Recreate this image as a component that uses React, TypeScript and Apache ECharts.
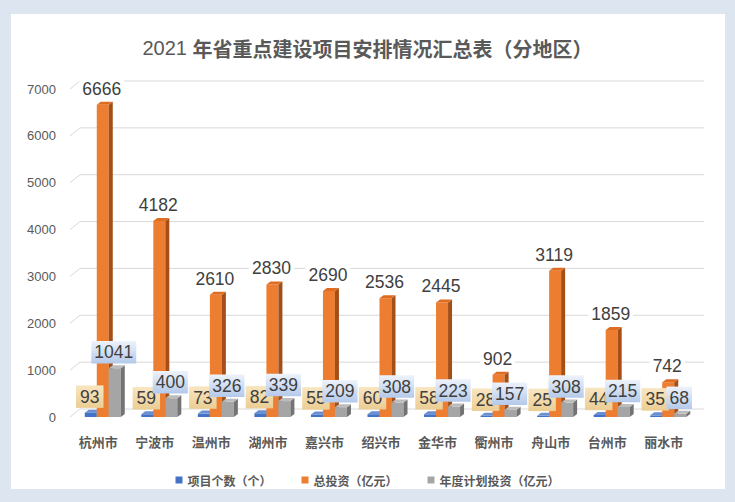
import React, { useEffect, useRef } from 'react';
import * as echarts from 'echarts';

const cities = ['杭州市', '宁波市', '温州市', '湖州市', '嘉兴市', '绍兴市', '金华市', '衢州市', '舟山市', '台州市', '丽水市'];
const projectCounts = [93, 59, 73, 82, 55, 60, 58, 28, 25, 44, 35];
const totalInvestment = [6666, 4182, 2610, 2830, 2690, 2536, 2445, 902, 3119, 1859, 742];
const annualPlan = [1041, 400, 326, 339, 209, 308, 223, 157, 308, 215, 68];
const yTicks = [0, 1000, 2000, 3000, 4000, 5000, 6000, 7000];
const seriesNames = ['项目个数（个）', '总投资（亿元）', '年度计划投资（亿元）'];
const titleYear = '2021 ';
const titleMain = '年省重点建设项目安排情况汇总表（分地区）';

const NUM_FONT = "'Liberation Sans', 'Noto Sans CJK SC', sans-serif";
const CJK_FONT = "'Noto Sans CJK SC', 'Liberation Sans', sans-serif";

const looks = [
  { front: '#4472c4', side: '#2f5597', top: '#6a8fd3', offset: -7.5 },
  { front: '#ed7d31', side: '#a34f17', top: '#de6d22', offset: 4.5 },
  { front: '#a5a5a5', side: '#737373', top: '#bcbcbc', offset: 16.5 },
];

const BAR_W = 12;
const DX = 4;
const DY = -3;

const makeBarRenderer = (k: number) => (params: any, api: any) => {
  const i = api.value(0);
  const v = api.value(1);
  const base = api.coord([i, 0]);
  const top = api.coord([i, v]);
  const L = looks[k];
  const x0 = base[0] + L.offset - BAR_W / 2;
  const x1 = x0 + BAR_W;
  const yT = top[1];
  const yB = base[1];
  return {
    type: 'group',
    children: [
      { type: 'rect', shape: { x: x0, y: yT, width: BAR_W, height: yB - yT }, style: { fill: L.front } },
      {
        type: 'polygon',
        shape: { points: [[x1, yT], [x1 + DX, yT + DY], [x1 + DX, yB + DY], [x1, yB]] },
        style: { fill: L.side },
      },
      {
        type: 'polygon',
        shape: { points: [[x0, yT], [x0 + DX, yT + DY], [x1 + DX, yT + DY], [x1, yT]] },
        style: { fill: L.top },
      },
    ],
  };
};

const tanBg = {
  type: 'linear', x: 0, y: 0, x2: 0, y2: 1,
  colorStops: [{ offset: 0, color: '#f8e6c2' }, { offset: 1, color: '#ebcd93' }],
};
const blueBg = {
  type: 'linear', x: 0, y: 0, x2: 0, y2: 1,
  colorStops: [{ offset: 0, color: '#eef3fb' }, { offset: 1, color: '#b4c9ea' }],
};

const labelRenderer = (params: any, api: any) => {
  const i = api.value(0);
  const base = api.coord([i, 0]);
  const vals = [api.value(1), api.value(2), api.value(3)];
  const children: any[] = [];
  const order = [0, 2, 1];
  order.forEach((k, n) => {
    const v = vals[k];
    const p = api.coord([i, v]);
    const style: any = {
      text: String(v),
      fill: '#404040',
      font: `17.5px ${NUM_FONT}`,
      align: 'center',
      verticalAlign: 'middle',
    };
    if (k === 0) {
      style.backgroundColor = tanBg;
      style.padding = [3, 4, 2, 4];
    } else if (k === 2) {
      style.backgroundColor = blueBg;
      style.padding = [3, 3, 2, 3];
    } else {
      style.backgroundColor = '#ffffff';
      style.padding = [0, 3];
    }
    children.push({
      type: 'text',
      x: base[0] + looks[k].offset - 1,
      y: p[1] - 16,
      z2: 10 + n,
      style,
    });
  });
  return { type: 'group', children };
};

const gridRenderer = (params: any, api: any) => {
  const v = api.value(1);
  const y = api.coord([0, v])[1];
  const cs = params.coordSys;
  const left = cs.x;
  const right = cs.x + cs.width;
  return {
    type: 'polyline',
    shape: { points: [[left, y], [left + 10, y - 8], [right + 12, y - 8]] },
    style: { stroke: '#d9d9d9', lineWidth: 1, fill: null },
  };
};

export default function App() {
  const ref = useRef<HTMLDivElement>(null);
  useEffect(() => {
    if (!ref.current) return;
    const chart = echarts.init(ref.current, undefined, { renderer: 'svg' });
    chart.setOption({
      animation: false,
      backgroundColor: '#dce5f0',
      graphic: [
        { type: 'rect', z: -10, silent: true, shape: { x: 11, y: 14, width: 714, height: 475 }, style: { fill: '#ffffff' } },
      ],
      title: {
        text: `{a|${titleYear}}{b|${titleMain}}`,
        left: 'center',
        top: 33,
        textStyle: {
          rich: {
            a: { fontSize: 20, color: '#595959', fontFamily: NUM_FONT, fontWeight: 'normal' },
            b: { fontSize: 20, color: '#595959', fontFamily: CJK_FONT, fontWeight: 'bold' },
          },
        },
      },
      legend: {
        data: seriesNames,
        left: 'center',
        top: 469,
        itemWidth: 7,
        itemHeight: 7,
        itemGap: 30,
        icon: 'rect',
        textStyle: { fontSize: 12, fontWeight: 'bold', color: '#595959', fontFamily: CJK_FONT },
      },
      grid: { left: 70, right: 43, top: 89, bottom: 85, containLabel: false },
      xAxis: {
        type: 'category',
        data: cities,
        axisLine: { show: false },
        axisTick: { show: false },
        axisLabel: { margin: 18, fontSize: 13, fontWeight: 'bold', color: '#595959', fontFamily: CJK_FONT },
      },
      yAxis: {
        type: 'value',
        min: 0,
        max: 7000,
        interval: 1000,
        axisLine: { show: false },
        axisTick: { show: false },
        splitLine: { show: false },
        axisLabel: {
          margin: 14,
          fontSize: 13,
          color: '#595959',
          fontFamily: NUM_FONT,
          formatter: (v: number) => String(v),
        },
      },
      series: [
        {
          type: 'custom',
          name: 'grid',
          silent: true,
          z: 1,
          renderItem: gridRenderer,
          data: yTicks.map((v) => [0, v]),
        },
        ...seriesNames.map((name, k) => ({
          type: 'custom',
          name,
          z: 2 + k,
          itemStyle: { color: looks[k].front },
          renderItem: makeBarRenderer(k),
          data: cities.map((c, i) => [i, [projectCounts, totalInvestment, annualPlan][k][i]]),
        })),
        {
          type: 'custom',
          name: 'labels',
          silent: true,
          z: 10,
          renderItem: labelRenderer,
          data: cities.map((c, i) => [i, projectCounts[i], totalInvestment[i], annualPlan[i]]),
        },
      ],
    });
    return () => chart.dispose();
  }, []);
  return (
    <div
      ref={ref}
      style={{ position: 'absolute', left: 0, top: 0, width: 735, height: 502 }}
    />
  );
}
